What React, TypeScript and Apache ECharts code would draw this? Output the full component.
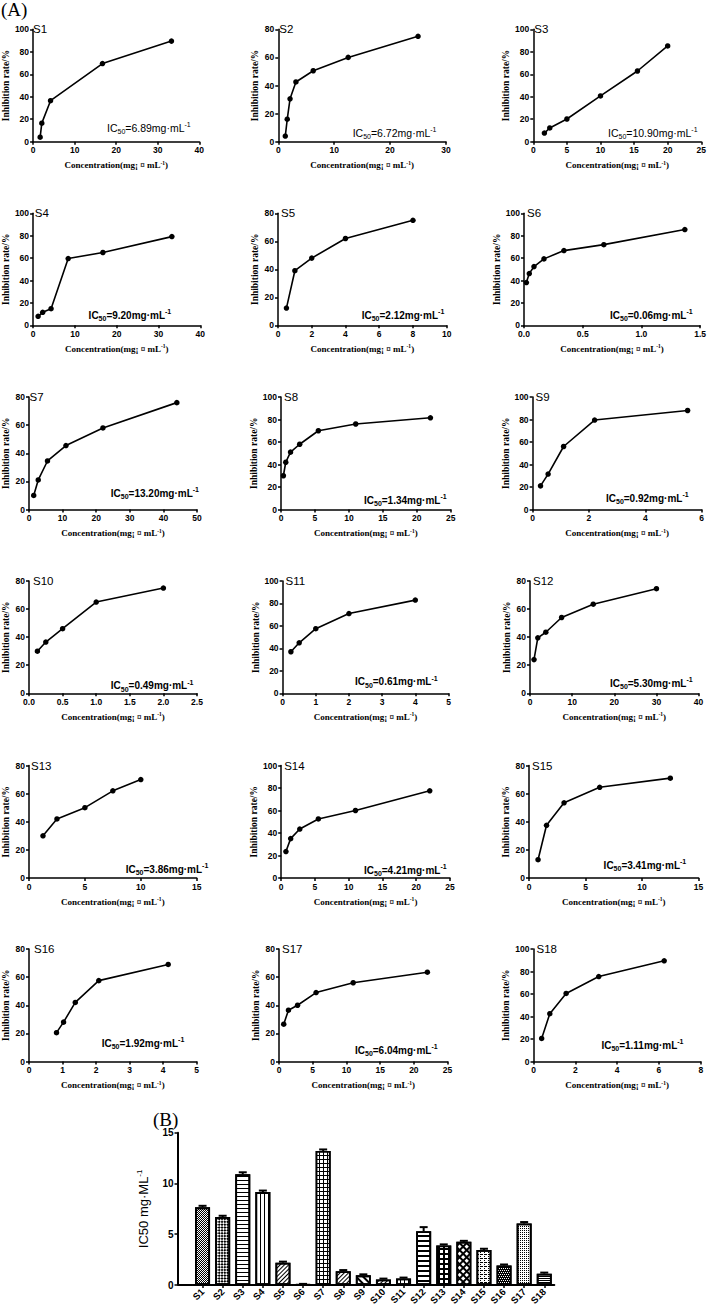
import React, { useEffect, useRef } from "react";
import * as echarts from "echarts";

// ---------- DATA ----------
const sampleNames = ["S1","S2","S3","S4","S5","S6","S7","S8","S9","S10","S11","S12","S13","S14","S15","S16","S17","S18"];

const concS1 = [1.7, 2.1, 4.2, 16.7, 33.3];
const inhS1 = [4, 16.5, 36.5, 69.5, 89.5];
const concS2 = [1.25, 1.6, 2.1, 3.15, 6.25, 12.5, 25];
const inhS2 = [4, 16, 30.5, 42.5, 50.5, 60, 75];
const concS3 = [1.65, 2.45, 5, 10, 15.5, 20];
const inhS3 = [7.7, 12.2, 20.2, 40.7, 62.9, 85.2];
const concS4 = [1.2, 2.3, 4.3, 8.4, 16.7, 33.2];
const inhS4 = [8, 11.6, 14.8, 59.6, 65, 79.2];
const concS5 = [0.5, 1, 2, 4, 8];
const inhS5 = [12.3, 39, 48, 62, 75];
const concS6 = [0.02, 0.045, 0.085, 0.17, 0.34, 0.68, 1.37];
const inhS6 = [38.2, 46.2, 52.4, 59.3, 66.7, 72, 85.5];
const concS7 = [1.4, 2.75, 5.5, 11, 22, 44];
const inhS7 = [10, 21, 34.5, 45.5, 58, 76];
const concS8 = [0.35, 0.7, 1.4, 2.75, 5.5, 11, 22];
const inhS8 = [30, 42, 51, 58, 70, 76, 81.5];
const concS9 = [0.28, 0.55, 1.1, 2.2, 5.5];
const inhS9 = [21, 31.5, 56, 79.5, 88];
const concS10 = [0.125, 0.25, 0.5, 1, 2];
const inhS10 = [30, 36.5, 46, 65, 75];
const concS11 = [0.25, 0.5, 1, 2, 4];
const inhS11 = [37, 45, 57.5, 71, 83];
const concS12 = [0.95, 1.85, 3.75, 7.5, 15, 30];
const inhS12 = [24, 39.5, 43.5, 54, 63.5, 74.5];
const concS13 = [1.25, 2.5, 5, 7.5, 10];
const inhS13 = [30, 42, 50, 62, 70];
const concS14 = [0.7, 1.4, 2.75, 5.5, 11, 22];
const inhS14 = [23.5, 35, 43.5, 52.5, 60, 77.5];
const concS15 = [0.8, 1.55, 3.1, 6.25, 12.5];
const inhS15 = [13, 37.5, 53.5, 64.5, 71];
const concS16 = [0.82, 1.03, 1.38, 2.08, 4.15];
const inhS16 = [20.5, 28, 42, 57.5, 69];
const concS17 = [0.7, 1.4, 2.75, 5.5, 11, 22];
const inhS17 = [26.5, 36.5, 40, 49, 56, 63.5];
const concS18 = [0.39, 0.78, 1.56, 3.12, 6.25];
const inhS18 = [20.5, 42.5, 60.5, 75.5, 89.5];

const concentrations = [concS1, concS2, concS3, concS4, concS5, concS6, concS7, concS8, concS9, concS10, concS11, concS12, concS13, concS14, concS15, concS16, concS17, concS18];
const inhibitions = [inhS1, inhS2, inhS3, inhS4, inhS5, inhS6, inhS7, inhS8, inhS9, inhS10, inhS11, inhS12, inhS13, inhS14, inhS15, inhS16, inhS17, inhS18];

const ic50Texts = ["6.89","6.72","10.90","9.20","2.12","0.06","13.20","1.34","0.92","0.49","0.61","5.30","3.86","4.21","3.41","1.92","6.04","1.11"];
const xMaxes = [40, 30, 25, 40, 10, 1.5, 50, 25, 6, 2.5, 5, 40, 15, 25, 15, 5, 25, 8];
const xSteps = [10, 10, 5, 10, 2, 0.5, 10, 5, 2, 0.5, 1, 10, 5, 5, 5, 1, 5, 2];
const yMaxes = [100, 80, 100, 100, 80, 100, 80, 100, 100, 80, 100, 80, 80, 100, 80, 80, 80, 100];
const yStep = 20;

const ic50Means = [7.65, 6.7, 10.9, 9.15, 2.2, 0.06, 13.2, 1.35, 0.95, 0.55, 0.65, 5.3, 3.9, 4.25, 3.45, 1.92, 6.05, 1.12];
const ic50Errors = [0.15, 0.12, 0.2, 0.15, 0.1, 0.05, 0.15, 0.12, 0.1, 0.08, 0.08, 0.4, 0.1, 0.1, 0.12, 0.1, 0.15, 0.1];
const barMax = 15;
const barStep = 5;

// ---------- LAYOUT ----------
const axisX0 = [31, 278.3, 533.3, 29.8, 278, 524, 27.5, 281, 532.6, 28, 282.6, 530, 28, 281.2, 529, 28, 279, 533.5];
const axisX1 = [199.3, 446, 702.3, 200.3, 446.7, 701, 197, 450.8, 701.7, 197, 448.5, 698.6, 196.7, 450, 698.6, 196.7, 447.6, 700.8];
const rowTop = [29.3, 213.3, 397, 581, 765.5, 949];
const rowBottom = [141.7, 325.3, 509.5, 693.3, 878, 1061.5];
const icX = [107, 352.7, 608, 88.6, 361.7, 610, 110.8, 364, 606, 110.8, 355, 610, 125.7, 364, 603.6, 101.7, 355, 601.4];
const icY = [128.3, 133.3, 133.3, 315, 315, 315, 493.3, 500, 498, 685.7, 681.7, 683.3, 869.3, 870, 865, 1043.3, 1050, 1045];
const labelDx = [2, 1, 1, 5, 3, 3, 2, 3, 3, 5, 3, 3, 3, 3, 3, 6, 3, 3];

const barGrid = { left: 192.5, top: 1132.7, width: 361.8, height: 152.3 };
const barAxisX = 177.5;

const sans = "'Liberation Sans', Arial, Helvetica, sans-serif";
const serif = "'Liberation Serif', 'Times New Roman', serif";
const K = "#000";
const W = "#fff";

const dec = (o: any) => ({ symbol: "rect", symbolSize: 1, ...o });
const patterns: any[] = [
  { fill: W, decal: dec({ color: K, dashArrayX: [[1, 1], [0, 1, 1, 0]], dashArrayY: [1, 0] }) },
  { fill: W, decal: dec({ color: K, dashArrayX: [[2, 2], [0, 2, 2, 0]], dashArrayY: [2, 0], rotation: Math.PI / 4 }) },
  { fill: W, decal: dec({ color: K, dashArrayX: [1, 0], dashArrayY: [1, 3] }) },
  { fill: W, decal: dec({ color: K, dashArrayX: [1, 3], dashArrayY: [1, 0] }) },
  { fill: W, decal: dec({ color: K, dashArrayX: [1, 0], dashArrayY: [1, 2], rotation: -Math.PI / 4 }) },
  { fill: W, decal: null },
  { fill: K, decal: dec({ color: W, dashArrayX: [3, 1], dashArrayY: [3, 1] }) },
  { fill: W, decal: dec({ color: K, dashArrayX: [1, 0], dashArrayY: [1, 2], rotation: -Math.PI / 4 }) },
  { fill: W, decal: dec({ color: K, dashArrayX: [1, 0], dashArrayY: [2, 3], rotation: Math.PI / 4 }) },
  { fill: W, decal: dec({ color: K, dashArrayX: [1, 0], dashArrayY: [1, 2], rotation: -Math.PI / 4 }) },
  { fill: W, decal: dec({ color: K, dashArrayX: [1, 3], dashArrayY: [1, 0] }) },
  { fill: W, decal: dec({ color: K, dashArrayX: [1, 0], dashArrayY: [2, 3] }) },
  { fill: K, decal: dec({ color: W, dashArrayX: [3, 2], dashArrayY: [3, 2] }) },
  { fill: K, decal: dec({ color: W, dashArrayX: [3, 2], dashArrayY: [3, 2], rotation: Math.PI / 4 }) },
  { fill: W, decal: dec({ color: K, dashArrayX: [[3, 1], [1, 3]], dashArrayY: [1, 1] }) },
  { fill: K, decal: dec({ color: W, dashArrayX: [[1, 1], [0, 1, 1, 0]], dashArrayY: [1, 1] }) },
  { fill: W, decal: dec({ color: K, dashArrayX: [1, 1], dashArrayY: [1, 1] }) },
  { fill: W, decal: dec({ color: K, dashArrayX: [1, 0], dashArrayY: [1, 1] }) },
];

function buildOption() {
  const grids: any[] = [];
  const xAxes: any[] = [];
  const yAxes: any[] = [];
  const series: any[] = [];
  const graphics: any[] = [];

  sampleNames.forEach((name, i) => {
    const r = Math.floor(i / 3);
    grids.push({
      left: axisX0[i],
      top: rowTop[r],
      width: axisX1[i] - axisX0[i],
      height: rowBottom[r] - rowTop[r],
      containLabel: false,
    });
    const step = xSteps[i];
    xAxes.push({
      gridIndex: i,
      type: "value",
      min: 0,
      max: xMaxes[i],
      interval: step,
      axisLine: { show: true, onZero: false, lineStyle: { color: K, width: 1.5 } },
      axisTick: { show: true, length: 3, lineStyle: { color: K, width: 1.5 } },
      axisLabel: {
        color: K,
        fontFamily: sans,
        fontWeight: "bold",
        fontSize: 8.5,
        margin: 4,
        showMaxLabel: true,
        showMinLabel: true,
        formatter: (v: number) => (step < 1 ? v.toFixed(1) : String(v)),
      },
      splitLine: { show: false },
      name: "Concentration(mg¡ ¤ mL{s|-1})",
      nameLocation: "middle",
      nameGap: 18,
      nameTextStyle: {
        color: K,
        fontFamily: serif,
        fontWeight: "bold",
        fontSize: 9,
        lineHeight: 11,
        rich: {
          s: { color: K, fontFamily: serif, fontWeight: "bold", fontSize: 5.5, lineHeight: 11, verticalAlign: "top" },
        },
      },
    });
    yAxes.push({
      gridIndex: i,
      type: "value",
      min: 0,
      max: yMaxes[i],
      interval: yStep,
      axisLine: { show: true, onZero: false, lineStyle: { color: K, width: 1.5 } },
      axisTick: { show: true, length: 3, lineStyle: { color: K, width: 1.5 } },
      axisLabel: { color: K, fontFamily: sans, fontWeight: "bold", fontSize: 8.5, margin: 4, showMaxLabel: true },
      splitLine: { show: false },
      name: "Inhibition rate/%",
      nameLocation: "middle",
      nameRotate: 90,
      nameGap: 18,
      nameTextStyle: { color: K, fontFamily: serif, fontWeight: "bold", fontSize: 9.5 },
    });
    series.push({
      type: "line",
      name,
      xAxisIndex: i,
      yAxisIndex: i,
      data: concentrations[i].map((c, j) => [c, inhibitions[i][j]]),
      symbol: "circle",
      symbolSize: 5.5,
      lineStyle: { color: K, width: 1.6 },
      itemStyle: { color: K },
      clip: false,
      silent: true,
    });
    graphics.push({
      type: "text",
      x: axisX0[i] + labelDx[i],
      y: rowTop[r],
      style: {
        text: name,
        font: `normal 11.5px ${sans}`,
        fontFamily: sans,
        fontSize: 11.5,
        fill: K,
        verticalAlign: "middle",
        align: "left",
      },
    });
    const bold = r === 0 ? "normal" : "bold";
    const fs = r === 0 ? 10.5 : 10;
    graphics.push({
      type: "text",
      x: icX[i],
      y: icY[i],
      style: {
        text: `IC{sub|50}=${ic50Texts[i]}mg·mL{sup|-1}`,
        font: `${bold} ${fs}px ${sans}`,
        fontFamily: sans,
        fontSize: fs,
        fontWeight: bold,
        fill: K,
        lineHeight: 14,
        verticalAlign: "middle",
        align: "left",
        rich: {
          sub: { fontFamily: sans, fontSize: 7, fontWeight: bold, fill: K, lineHeight: 14, verticalAlign: "bottom" },
          sup: { fontFamily: sans, fontSize: 7, fontWeight: bold, fill: K, lineHeight: 14, verticalAlign: "top" },
        },
      },
    });
  });

  const bi = sampleNames.length;
  grids.push({ ...barGrid, containLabel: false });
  xAxes.push({
    gridIndex: bi,
    type: "category",
    data: sampleNames,
    axisLine: { show: true, lineStyle: { color: K, width: 2 } },
    axisTick: { show: true, alignWithLabel: true, length: 3, lineStyle: { color: K, width: 1.5 } },
    axisLabel: { interval: 0, rotate: 45, color: K, fontFamily: sans, fontWeight: "bold", fontSize: 9.5, margin: 5 },
    splitLine: { show: false },
  });
  yAxes.push({
    gridIndex: bi,
    type: "value",
    min: 0,
    max: barMax,
    interval: barStep,
    offset: barGrid.left - barAxisX,
    axisLine: { show: true, lineStyle: { color: K, width: 2 } },
    axisTick: { show: true, length: 3, lineStyle: { color: K, width: 1.5 } },
    axisLabel: { color: K, fontFamily: sans, fontWeight: "bold", fontSize: 10, margin: 4 },
    splitLine: { show: false },
    name: "IC50 mg·ML{sup|-1}",
    nameLocation: "middle",
    nameRotate: 90,
    nameGap: 11,
    nameTextStyle: {
      color: K,
      fontFamily: sans,
      fontSize: 13,
      lineHeight: 16,
      rich: { sup: { color: K, fontFamily: sans, fontSize: 8, lineHeight: 16, verticalAlign: "top" } },
    },
  });
  series.push({
    type: "bar",
    xAxisIndex: bi,
    yAxisIndex: bi,
    barWidth: 15,
    silent: true,
    data: ic50Means.map((v, i) => ({
      value: v,
      itemStyle: {
        color: patterns[i].fill,
        decal: patterns[i].decal || undefined,
        borderColor: K,
        borderWidth: 1.8,
      },
    })),
  });
  series.push({
    type: "custom",
    xAxisIndex: bi,
    yAxisIndex: bi,
    silent: true,
    encode: { x: 0, y: 1 },
    data: ic50Means.map((v, i) => [i, v, ic50Errors[i]]),
    renderItem: (params: any, api: any) => {
      const idx = api.value(0);
      const v = api.value(1);
      const e = api.value(2);
      const base = api.coord([idx, v]);
      const top = api.coord([idx, v + e]);
      return {
        type: "group",
        children: [
          { type: "line", shape: { x1: base[0], y1: base[1], x2: top[0], y2: top[1] }, style: { stroke: K, lineWidth: 2 } },
          { type: "line", shape: { x1: top[0] - 4, y1: top[1], x2: top[0] + 4, y2: top[1] }, style: { stroke: K, lineWidth: 2 } },
        ],
      };
    },
  });

  graphics.push({
    type: "line",
    shape: { x1: barAxisX, y1: barGrid.top + barGrid.height, x2: barGrid.left, y2: barGrid.top + barGrid.height },
    style: { stroke: K, lineWidth: 2 },
  });
  graphics.push({
    type: "text",
    x: 1,
    y: 9,
    style: { text: "(A)", font: `normal 19px ${serif}`, fontFamily: serif, fontSize: 19, fill: K, verticalAlign: "middle", align: "left" },
  });
  graphics.push({
    type: "text",
    x: 153,
    y: 1119,
    style: { text: "(B)", font: `normal 19px ${serif}`, fontFamily: serif, fontSize: 19, fill: K, verticalAlign: "middle", align: "left" },
  });

  return {
    animation: false,
    backgroundColor: "#fff",
    grid: grids,
    xAxis: xAxes,
    yAxis: yAxes,
    series,
    graphic: graphics,
  };
}

export default function App() {
  const ref = useRef<HTMLDivElement>(null);
  useEffect(() => {
    if (!ref.current) return;
    const chart = echarts.init(ref.current, null, { renderer: "svg" });
    chart.setOption(buildOption() as any);
    return () => chart.dispose();
  }, []);
  return (
    <div
      ref={ref}
      style={{ position: "absolute", left: 0, top: 0, width: 709, height: 1312, background: "#fff" }}
    />
  );
}
